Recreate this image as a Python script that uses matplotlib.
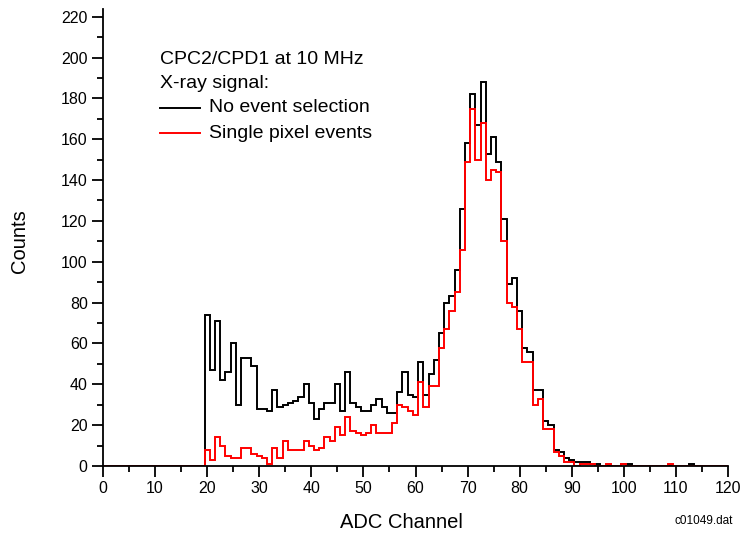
import numpy as np
import matplotlib
matplotlib.use("Agg")
import matplotlib.pyplot as plt
from matplotlib.lines import Line2D

plt.rcParams['font.family'] = ['Liberation Sans', 'DejaVu Sans']

# ADC channels and counts (channels not listed are zero)
channels = np.arange(0, 121)

black_start = 20
black_counts = [74, 47, 71, 42, 46, 60, 30, 53, 53, 49,
                28, 28, 27, 37, 29, 30, 31, 32, 34, 40,
                31, 23, 28, 31, 31, 40, 27, 46, 31, 29,
                27, 27, 30, 33, 29, 26, 26, 36, 46, 35,
                34, 51, 35, 45, 52, 65, 80, 83, 96, 126,
                158, 182, 167, 188, 153, 161, 149, 121, 89, 92,
                76, 58, 56, 37, 37, 22, 20, 8, 7, 4,
                3, 2, 2, 2, 1, 1, 0, 0, 0, 0,
                1, 1, 0, 0, 0, 0, 0, 0, 0, 0,
                0, 0, 0, 1]

red_start = 20
red_counts = [8, 3, 14, 10, 5, 4, 4, 9, 9, 6,
              5, 4, 1, 9, 4, 12, 8, 8, 8, 12,
              10, 8, 9, 14, 12, 19, 15, 24, 17, 16,
              15, 16, 20, 16, 16, 16, 21, 30, 29, 27,
              25, 41, 29, 39, 39, 58, 67, 76, 85, 106,
              149, 175, 150, 168, 140, 145, 144, 110, 80, 78,
              67, 51, 51, 30, 33, 18, 18, 7, 5, 2,
              2, 0, 1, 1, 1, 0, 0, 1, 0, 0,
              1, 0, 0, 0, 0, 0, 0, 0, 0, 1]

series_labels = ["No event selection", "Single pixel events"]
title_lines = ["CPC2/CPD1 at 10 MHz", "X-ray signal:"]

def full(start, vals):
    arr = np.zeros(len(channels))
    arr[start:start + len(vals)] = vals
    return arr

black = full(black_start, black_counts)
red = full(red_start, red_counts)
edges = np.append(channels - 0.5, channels[-1] + 0.5)

W, H = 742, 539
fig = plt.figure(figsize=(W / 100, H / 100), dpi=100)
ax = fig.add_axes([103 / W, (H - 466) / H, (728 - 103) / W, (466 - 8.5) / H])

ax.stairs(black, edges, color='black', linewidth=1.4, baseline=None)
ax.stairs(red, edges, color='#ff0000', linewidth=1.4, baseline=None)

ax.set_xlim(0, 120)
ax.set_ylim(0, 224)
ax.set_xticks(np.arange(0, 121, 10))
ax.set_xticks(np.arange(0, 121, 5), minor=True)
ax.set_yticks(np.arange(0, 221, 20))
ax.set_yticks(np.arange(0, 221, 10), minor=True)
for s in ['top', 'right']:
    ax.spines[s].set_visible(False)
for s in ['left', 'bottom']:
    ax.spines[s].set_linewidth(1.3)
ax.tick_params(which='major', direction='out', length=8, width=1.3, labelsize=11.5, pad=3)
ax.tick_params(which='minor', direction='out', length=4, width=1.3)

fig.text(20 / W, 1 - 241 / H, "Counts", rotation=90, ha='center', va='center', fontsize=14.5)
fig.text(401 / W, 1 - 523 / H, "ADC Channel", ha='center', va='center', fontsize=14.5)
fig.text(733 / W, 1 - 521 / H, "c01049.dat", ha='right', va='center', fontsize=8.5)

fig.text(160 / W, 1 - 59 / H, title_lines[0], ha='left', va='center', fontsize=14)
fig.text(160 / W, 1 - 84 / H, title_lines[1], ha='left', va='center', fontsize=14)
for i, (lab, col) in enumerate(zip(series_labels, ['black', '#ff0000'])):
    yy = 1 - (108 + 25 * i) / H
    fig.add_artist(Line2D([160 / W, 200 / W], [yy, yy], color=col, linewidth=1.4,
                          transform=fig.transFigure))
    fig.text(209 / W, yy, lab, ha='left', va='center', fontsize=14)

fig.savefig("out.png", dpi=100)
